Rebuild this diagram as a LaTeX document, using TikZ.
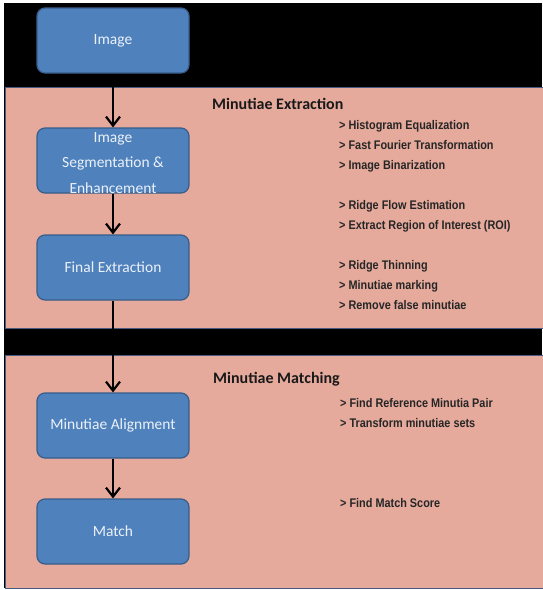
\documentclass[tikz,border=0pt]{standalone}
\usepackage{fontspec}
\newfontfamily\boxfont{Carlito}
\newfontfamily\listfont[FakeStretch=0.87]{Liberation Sans}
\usetikzlibrary{arrows.meta}
\definecolor{panelpink}{RGB}{229,170,156}
\definecolor{panelline}{RGB}{70,92,128}
\definecolor{stagefill}{RGB}{79,129,189}
\definecolor{stageline}{RGB}{56,93,138}
\definecolor{stagetext}{RGB}{236,241,248}
\tikzset{
  stage/.style={draw=stageline, line width=1.2pt, fill=stagefill, rounded corners=8pt,
    minimum width=152pt, minimum height=65pt, inner sep=0pt, text=stagetext,
    font=\boxfont\fontsize{15.5}{25}\selectfont},
  stagelabel/.style={inner sep=0pt, text=stagetext, align=center,
    font=\boxfont\fontsize{15.5}{25.5}\selectfont},
  title/.style={anchor=west, inner sep=0pt, text=black!90,
    font=\boxfont\bfseries\fontsize{16}{19}\selectfont},
  note/.style={anchor=base west, inner sep=0pt, text=black!85,
    font=\listfont\bfseries\fontsize{12.5}{15}\selectfont}
}
\begin{document}
\begin{tikzpicture}[x=1pt, y=-1pt]
      \useasboundingbox (0,0) rectangle (542,590);
      % background bands
      \fill[black] (4,3) rectangle (542,588);
      \draw[panelline, line width=1pt, fill=panelpink] (5,87) rectangle (545,328);
      \draw[panelline, line width=1pt, fill=panelpink] (5,355) rectangle (545,588);
      % stages
      \node[stage] (img) at (113,40.5) {Image};
      \node[stage, label={[stagelabel, yshift=-2.5pt]center:{Image\\Segmentation \&\\Enhancement}}] (seg) at (113,160.5) {};
      \node[stage] (fin) at (113,267.5) {Final Extraction};
      \node[stage] (ali) at (113,425.5) {Minutiae Alignment};
      \node[stage] (mat) at (113,531.5) {Match};
      % headings
      \node[title] (ext) at (212,104) {Minutiae Extraction};
      \node[title] (mtc) at (213,379) {Minutiae Matching};
      % extraction steps
      \node[note] (e1) at (339,129.5) {> Histogram Equalization};
      \node[note] (e2) at (339,149.5) {> Fast Fourier Transformation};
      \node[note] (e3) at (339,169.5) {> Image Binarization};
      \node[note] (e4) at (339,209.5) {> Ridge Flow Estimation};
      \node[note] (e5) at (339,229.5) {> Extract Region of Interest (ROI)};
      \node[note] (e6) at (339,269.5) {> Ridge Thinning};
      \node[note] (e7) at (339,289.5) {> Minutiae marking};
      \node[note] (e8) at (339,309.5) {> Remove false minutiae};
      % matching steps
      \node[note] (m1) at (340,407.5) {> Find Reference Minutia Pair};
      \node[note] (m2) at (340,427.5) {> Transform minutiae sets};
      \node[note] (m3) at (340,507.5) {> Find Match Score};
      \begin{scope}[line width=2.2pt, -{Straight Barb[length=9pt, width=14pt]}]
        \draw (img) to (seg);
        \draw (seg) to (fin);
        \draw (fin) to (ali);
        \draw (ali) to (mat);
      \end{scope}
    \end{tikzpicture}
\end{document}
